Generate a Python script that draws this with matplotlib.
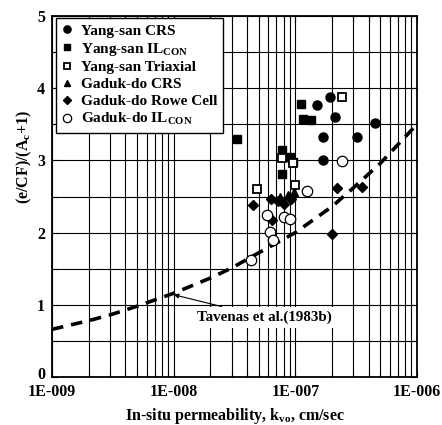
import matplotlib
matplotlib.use("Agg")
import matplotlib.pyplot as plt
from matplotlib.ticker import FixedLocator, NullFormatter, FixedFormatter
from matplotlib.transforms import ScaledTranslation

plt.rcParams['font.family'] = ['Liberation Serif', 'DejaVu Serif']
plt.rcParams['font.weight'] = 'bold'
plt.rcParams['axes.labelweight'] = 'bold'
plt.rcParams['mathtext.fontset'] = 'custom'
plt.rcParams['mathtext.rm'] = 'Liberation Serif:bold'
plt.rcParams['mathtext.it'] = 'Liberation Serif:bold'
plt.rcParams['mathtext.bf'] = 'Liberation Serif:bold'

# ---- data ----
ys_crs_k = [1.50e-7, 1.92e-7, 2.11e-7, 1.69e-7, 3.21e-7, 4.51e-7, 1.69e-7]
ys_crs_v = [3.77, 3.88, 3.60, 3.32, 3.32, 3.52, 3.01]

ys_il_k = [3.31e-8, 1.11e-7, 1.15e-7, 1.34e-7, 7.8e-8, 9.0e-8, 9.5e-8, 7.8e-8]
ys_il_v = [3.30, 3.78, 3.57, 3.56, 3.14, 3.05, 2.98, 2.81]

ys_tri_k = [4.8e-8, 9.9e-8, 2.41e-7, 7.8e-8, 9.5e-8]
ys_tri_v = [2.60, 2.66, 3.88, 3.03, 2.96]

gd_crs_k = [7.5e-8, 8.7e-8, 9.7e-8]
gd_crs_v = [2.50, 2.52, 2.56]

gd_rowe_k = [4.5e-8, 2.2e-7, 3.52e-7, 2.0e-7, 6.3e-8, 7.2e-8, 8.05e-8, 9.2e-8, 6.4e-8]
gd_rowe_v = [2.38, 2.62, 2.63, 1.98, 2.47, 2.44, 2.40, 2.46, 2.17]

gd_il_k = [2.41e-7, 1.24e-7, 5.8e-8, 8.0e-8, 9.0e-8, 6.2e-8, 6.55e-8, 4.35e-8]
gd_il_v = [2.99, 2.57, 2.24, 2.22, 2.19, 2.01, 1.90, 1.62]

tav_k = [1e-9, 2e-9, 3e-9, 5e-9, 1e-8, 2e-8, 3e-8, 5e-8, 1e-7, 2e-7, 3e-7, 5e-7, 1e-6]
tav_v = [0.66, 0.78, 0.86, 0.98, 1.16, 1.37, 1.51, 1.72, 2.00, 2.36, 2.62, 2.96, 3.50]

xtick_vals = [1e-9, 1e-8, 1e-7, 1e-6]
xtick_labels = ['1E-009', '1E-008', '1E-007', '1E-006']
ytick_vals = [0, 1, 2, 3, 4, 5]

legend_labels = ['Yang-san CRS', r'Yang-san IL$_{\mathrm{CON}}$', 'Yang-san Triaxial',
                 'Gaduk-do CRS', 'Gaduk-do Rowe Cell', r'Gaduk-do IL$_{\mathrm{CON}}$']

fig = plt.figure(figsize=(4.42, 4.25), dpi=100)
ax = fig.add_axes([52/442, 1-377/425, 365/442, 361/425])
ax.set_xscale('log')
ax.set_xlim(1e-9, 1e-6)
ax.set_ylim(0, 5)

# grid
minor_x = [m * 10.0**e for e in (-9, -8, -7) for m in range(2, 10)]
ax.xaxis.set_major_locator(FixedLocator(xtick_vals))
ax.xaxis.set_major_formatter(FixedFormatter(xtick_labels))
ax.xaxis.set_minor_locator(FixedLocator(minor_x))
ax.xaxis.set_minor_formatter(NullFormatter())
ax.yaxis.set_major_locator(FixedLocator(ytick_vals))
ax.yaxis.set_minor_locator(FixedLocator([0.5, 1.5, 2.5, 3.5, 4.5]))
ax.grid(True, which='both', color='black', linewidth=0.8)
ax.set_axisbelow(True)
ax.tick_params(which='both', direction='in', top=True, right=True, length=4, width=0.8,
               labelsize=11.5)
ax.tick_params(axis='x', pad=5)
ax.tick_params(axis='y', pad=5)
for s in ax.spines.values():
    s.set_linewidth(1.3)

ax.plot(tav_k, tav_v, color='black', linestyle=(0, (3.2, 2.2)), linewidth=2.6, zorder=3)

ax.plot(ys_crs_k, ys_crs_v, 'o', color='black', markersize=6.5, linestyle='none', zorder=4,
        label=legend_labels[0])
ax.plot(ys_il_k, ys_il_v, 's', color='black', markersize=6, linestyle='none', zorder=4,
        label=legend_labels[1])
ax.plot(ys_tri_k, ys_tri_v, 's', markerfacecolor='white', markeredgecolor='black',
        markeredgewidth=1.3, markersize=6, linestyle='none', zorder=5, label=legend_labels[2])
ax.plot(gd_crs_k, gd_crs_v, '^', color='black', markersize=6, linestyle='none', zorder=4,
        label=legend_labels[3])
ax.plot(gd_rowe_k, gd_rowe_v, 'D', color='black', markersize=5, linestyle='none', zorder=4,
        label=legend_labels[4])
ax.plot(gd_il_k, gd_il_v, 'o', markerfacecolor='white', markeredgecolor='black',
        markeredgewidth=0.9, markersize=7.5, linestyle='none', zorder=5, label=legend_labels[5])

leg = ax.legend(loc='upper left', bbox_to_anchor=(0.012, 0.995), fontsize=11,
                frameon=True, fancybox=False, framealpha=1, edgecolor='black',
                handlelength=0.6, handletextpad=0.6, labelspacing=0.2, borderpad=0.4,
                markerscale=0.8, borderaxespad=0.0)
leg.get_frame().set_linewidth(1.0)
leg.set_zorder(10)

ax.annotate('Tavenas et al.(1983b)', xy=(1.0e-8, 1.14), xytext=(1.55e-8, 0.83),
            fontsize=10.8, ha='left', va='center', zorder=6,
            bbox=dict(boxstyle='square,pad=0.25', fc='white', ec='none'),
            arrowprops=dict(arrowstyle='-|>', color='black', lw=0.8,
                            mutation_scale=7, shrinkA=0, shrinkB=0))

ax.set_xlabel(r'In-situ permeability, k$_{\mathrm{vo}}$, cm/sec', fontsize=11.5, labelpad=4)
ax.set_ylabel(r'(e/CF)/(A$_{\mathrm{c}}$+1)', fontsize=11.5)
ax.yaxis.set_label_coords(-0.048, 0.61)

fig.canvas.draw()
# lift the "0" label a little so it does not touch "1E-009"
for lbl in ax.get_yticklabels():
    if lbl.get_text() == '0':
        lbl.set_transform(lbl.get_transform() + ScaledTranslation(0, 3/72, fig.dpi_scale_trans))

fig.savefig('out.png', dpi=100)
